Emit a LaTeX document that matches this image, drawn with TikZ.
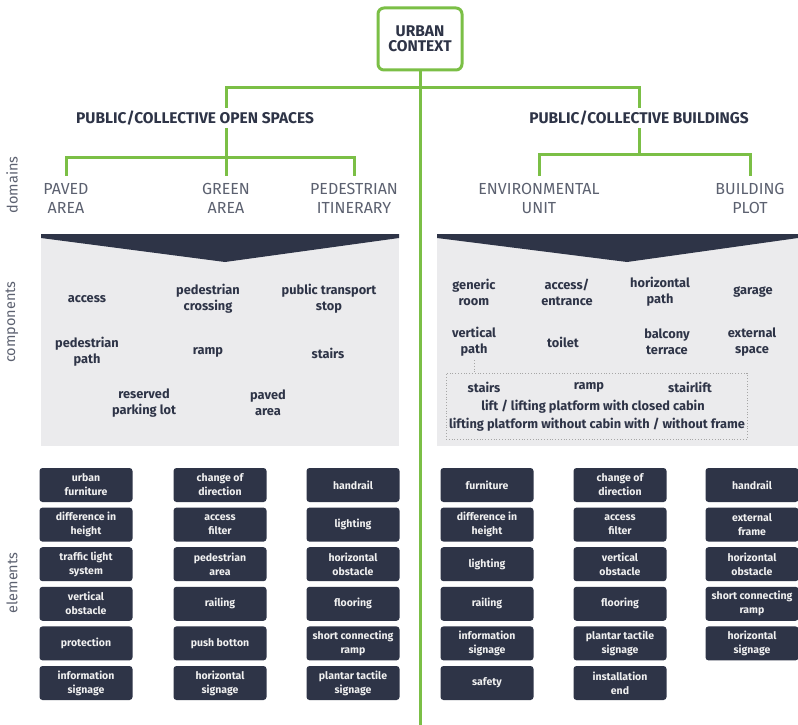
\documentclass[tikz,border=0pt]{standalone}
\usepackage{fontspec}
\setmainfont{Fira Sans}
\definecolor{navy}{HTML}{2E3447}
\definecolor{leaf}{HTML}{7BBF46}
\definecolor{panel}{HTML}{EBEBED}
\definecolor{slate}{HTML}{5C6170}
\begin{document}
\begin{tikzpicture}[x=1pt,y=-1pt,
  tree/.style={leaf,line width=3pt},
  head/.style={font=\bfseries\fontsize{15.5}{18}\selectfont,text=navy,inner ysep=3pt},
  domlabel/.style={font=\fontsize{16}{19}\selectfont,text=slate,align=center,inner ysep=7pt},
  comp/.style={font=\bfseries\fontsize{12.8}{16}\selectfont,text=navy,align=center},
  elbox/.style={fill=navy,rounded corners=3pt,text=white!88!gray,minimum width=93pt,
    minimum height=34pt,inner sep=1pt,font=\bfseries\fontsize{10.5}{14}\selectfont,align=center},
  sidelabel/.style={rotate=90,font=\fontsize{14.5}{16}\selectfont,text=slate}]
  \useasboundingbox (0,0) rectangle (798,725);
  \fill[white] (0,0) rectangle (798,725);
  \fill[panel] (41,234) rectangle (399,446);
  \fill[navy] (41,234) -- (399,234) -- (399,238) -- (225,262) -- (41,238) -- cycle;
  \fill[panel] (437,234) rectangle (798,446);
  \fill[navy] (437,234) -- (798,234) -- (798,238) -- (627,262) -- (437,238) -- cycle;
  \node[draw=leaf,line width=3pt,rounded corners=6pt,minimum width=84pt,minimum height=62pt,
    font=\bfseries\fontsize{15.5}{15}\selectfont,text=navy,align=center] (urban) at (420,39)
    {URBAN\\CONTEXT};
  \node[head] (osp) at (195,118) {PUBLIC/COLLECTIVE OPEN SPACES};
  \node[head] (pcb) at (639,118) {PUBLIC/COLLECTIVE BUILDINGS};
  \node[domlabel] (paved) at (66,198) {PAVED\\AREA};
  \node[domlabel] (green) at (226,198) {GREEN\\AREA};
  \node[domlabel] (itin) at (354,198) {PEDESTRIAN\\ITINERARY};
  \node[domlabel] (envunit) at (539,198) {ENVIRONMENTAL\\UNIT};
  \node[domlabel] (plot) at (750,198) {BUILDING\\PLOT};
  \coordinate (bar) at (420,88);
  \coordinate (osbar) at (226,157);
  \coordinate (pcbar) at (639,154);
  \coordinate (foot) at (420,725);
  \draw[tree] (urban.south) -- (foot);
  \draw[tree] (osp.north -| green) |- (bar) -| (pcb.north);
  \draw[tree] (osp.south -| green) -- (green.north);
  \draw[tree] (paved.north) |- (osbar) -| (itin.north);
  \draw[tree] (pcb.south) -- (pcbar);
  \draw[tree] (envunit.north) |- (pcbar) -| (plot.north);
  \node[sidelabel] (domains) at (12,185) {domains};
  \node[sidelabel] (components) at (12,322) {components};
  \node[sidelabel] (elements) at (12,583) {elements};
  \foreach \x/\y/\t/\n in {87/299/access/access, 208/299/{pedestrian\\crossing}/crossing,
    329/299/{public transport\\stop}/transit, 87/352/{pedestrian\\path}/pedpath,
    208/352/ramp/oramp, 328/353/stairs/ostairs, 144/403/{reserved\\parking lot}/parking,
    268/403/{paved\\area}/pavedcomp, 474/292/{generic\\room}/room,
    567/292/{access/\\entrance}/entrance, 660/292/{horizontal\\path}/hpath,
    753/292/garage/garage, 474/342/{vertical\\path}/vpath, 563/342/toilet/toilet,
    667/342/{balcony\\terrace}/balcony, 752/342/{external\\space}/extspace,
    484/387/stairs/bstairs, 589/387/ramp/bramp, 690/387/stairlift/stairlift,
    593/407/{lift / lifting platform with closed cabin}/lift,
    597/425/{lifting platform without cabin with / without frame}/platform}
    \node[comp] (\n) at (\x,\y) {\t};
  \node[draw=gray!70,dotted,line width=0.8pt,minimum width=301pt,minimum height=66pt] (liftbox)
    at (596.5,406) {};
  \draw[gray!70,dotted,line width=0.8pt] (vpath.south) -- (vpath.south |- liftbox.north);
  \foreach \t [count=\i] in {{urban\\furniture},{difference in\\height},{traffic light\\system},
    {vertical\\obstacle},protection,{information\\signage}}
    \node[elbox] (pa\i) at (86,{485+39.6*(\i-1)}) {\t};
  \foreach \t [count=\i] in {{change of\\direction},{access\\filter},{pedestrian\\area},
    railing,push botton,{horizontal\\signage}}
    \node[elbox] (pb\i) at (220,{485+39.6*(\i-1)}) {\t};
  \foreach \t [count=\i] in {handrail,lighting,{horizontal\\obstacle},flooring,
    {short connecting\\ramp},{plantar tactile\\signage}}
    \node[elbox] (pc\i) at (353,{485+39.6*(\i-1)}) {\t};
  \foreach \t [count=\i] in {furniture,{difference in\\height},lighting,railing,
    {information\\signage},safety}
    \node[elbox] (ba\i) at (487,{485+39.6*(\i-1)}) {\t};
  \foreach \t [count=\i] in {{change of\\direction},{access\\filter},{vertical\\obstacle},
    flooring,{plantar tactile\\signage},{installation\\end}}
    \node[elbox] (bb\i) at (620,{485+39.6*(\i-1)}) {\t};
  \foreach \t [count=\i] in {handrail,{external\\frame},{horizontal\\obstacle},
    {short connecting\\ramp},{horizontal\\signage}}
    \node[elbox] (bc\i) at (752,{485+39.6*(\i-1)}) {\t};
\end{tikzpicture}
\end{document}
